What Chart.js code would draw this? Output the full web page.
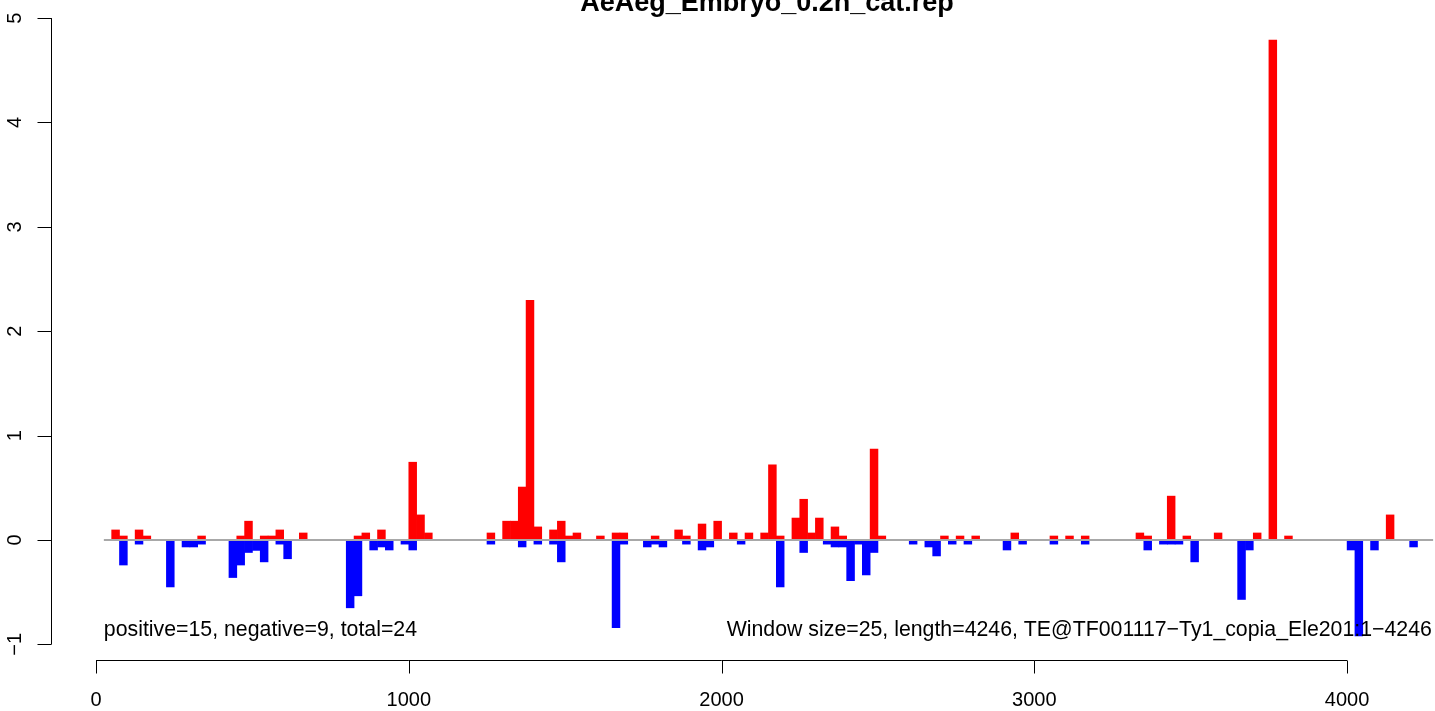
<!DOCTYPE html>
<html>
<head>
<meta charset="utf-8">
<script src="https://cdn.jsdelivr.net/npm/chart.js@4"></script>
<style>
  html, body { margin: 0; padding: 0; background: #fff; }
  #RepChart { display: block; }
</style>
</head>
<body>
<canvas id="RepChart" width="1435" height="711"></canvas>
<script>
// window size 25, positions are window starts
const WIN = 25;

const posStarts = [50, 75, 125, 150, 325, 450, 475, 525, 550, 575, 650, 825, 850, 900, 1000, 1025, 1050,
    1250, 1300, 1325, 1350, 1375, 1400, 1450, 1475, 1500, 1525, 1600, 1650, 1675, 1775, 1850, 1875,
    1925, 1975, 2025, 2075, 2125, 2150, 2175, 2225, 2250, 2275, 2300, 2350, 2375, 2475, 2500,
    2700, 2750, 2800, 2925, 3050, 3100, 3150, 3325, 3350, 3425, 3475, 3575, 3700, 3750, 3800, 4125];
const posValues = [0.096, 0.038, 0.096, 0.038, 0.038, 0.038, 0.18, 0.038, 0.038, 0.096, 0.067, 0.038, 0.067, 0.096, 0.745, 0.24, 0.067,
    0.067, 0.18, 0.18, 0.507, 2.295, 0.125, 0.096, 0.18, 0.038, 0.067, 0.038, 0.067, 0.067, 0.038, 0.096, 0.038,
    0.153, 0.18, 0.067, 0.067, 0.067, 0.72, 0.038, 0.21, 0.39, 0.067, 0.21, 0.125, 0.038, 0.87, 0.038,
    0.038, 0.038, 0.038, 0.067, 0.038, 0.038, 0.038, 0.067, 0.038, 0.42, 0.038, 0.067, 0.067, 4.79, 0.038, 0.24];

const negStarts = [75, 125, 225, 275, 300, 325, 425, 450, 475, 500, 525, 575, 600, 800, 825, 875, 900, 925, 975, 1000,
    1250, 1350, 1400, 1450, 1475, 1650, 1675, 1750, 1775, 1800, 1875, 1925, 1950, 2050, 2175, 2250,
    2325, 2350, 2375, 2400, 2425, 2450, 2475, 2600, 2650, 2675, 2725, 2775, 2900, 2950, 3050, 3150,
    3350, 3400, 3425, 3450, 3500, 3650, 3675, 4000, 4025, 4075, 4200];
const negValues = [-0.24, -0.04, -0.45, -0.067, -0.067, -0.04, -0.36, -0.24, -0.12, -0.10, -0.21, -0.04, -0.18, -0.65, -0.535, -0.096, -0.067, -0.096, -0.04, -0.096,
    -0.04, -0.067, -0.04, -0.04, -0.21, -0.84, -0.04, -0.067, -0.04, -0.067, -0.04, -0.096, -0.067, -0.04, -0.45, -0.12,
    -0.04, -0.067, -0.067, -0.39, -0.04, -0.335, -0.12, -0.04, -0.067, -0.153, -0.04, -0.04, -0.096, -0.04, -0.04, -0.04,
    -0.096, -0.04, -0.04, -0.04, -0.21, -0.57, -0.096, -0.096, -0.92, -0.096, -0.067];

const xTicks = [0, 1000, 2000, 3000, 4000];
const yTicks = [-1, 0, 1, 2, 3, 4, 5];
const baseLine = [25, 4275];

const chartTitle = "AeAeg_Embryo_0.2h_cat.rep";
const leftNote = "positive=15, negative=9, total=24";
const rightNote = "Window size=25, length=4246, TE@TF001117\u2212Ty1_copia_Ele201:1\u22124246";

const FONT = "'Liberation Sans', Arial, Helvetica, sans-serif";

// R style axes + title + notes
const rAxes = {
    id: "rAxes",
    afterDraw(chart) {
        const ctx = chart.ctx;
        const xs = chart.scales.x, ys = chart.scales.y;
        const area = chart.chartArea;
        ctx.save();
        ctx.strokeStyle = "#000";
        ctx.fillStyle = "#000";
        ctx.lineWidth = 1;

        // y axis
        const yx = Math.round(area.left) + 0.5;
        ctx.beginPath();
        ctx.moveTo(yx, ys.getPixelForValue(yTicks[0]));
        ctx.lineTo(yx, ys.getPixelForValue(yTicks[yTicks.length - 1]));
        yTicks.forEach(t => {
            const py = Math.round(ys.getPixelForValue(t)) + 0.5;
            ctx.moveTo(yx, py);
            ctx.lineTo(yx - 14, py);
        });
        ctx.stroke();
        ctx.font = "20px " + FONT;
        ctx.textAlign = "center";
        ctx.textBaseline = "alphabetic";
        yTicks.forEach(t => {
            ctx.save();
            ctx.translate(21, ys.getPixelForValue(t));
            ctx.rotate(-Math.PI / 2);
            ctx.fillText(t < 0 ? "\u2212" + Math.abs(t) : String(t), 0, 0);
            ctx.restore();
        });

        // x axis
        const xy = Math.round(area.bottom) + 0.5;
        ctx.beginPath();
        ctx.moveTo(xs.getPixelForValue(xTicks[0]), xy);
        ctx.lineTo(xs.getPixelForValue(xTicks[xTicks.length - 1]), xy);
        xTicks.forEach(t => {
            const px = Math.round(xs.getPixelForValue(t)) + 0.5;
            ctx.moveTo(px, xy);
            ctx.lineTo(px, xy + 13);
        });
        ctx.stroke();
        xTicks.forEach(t => {
            ctx.fillText(String(t), xs.getPixelForValue(t), 706);
        });

        // notes
        ctx.font = "21.3px " + FONT;
        ctx.textAlign = "left";
        ctx.fillText(leftNote, xs.getPixelForValue(25), ys.getPixelForValue(-0.92));
        ctx.textAlign = "right";
        ctx.fillText(rightNote, xs.getPixelForValue(4271), ys.getPixelForValue(-0.92));

        // title
        ctx.font = "bold 27px " + FONT;
        ctx.textAlign = "center";
        ctx.fillText(chartTitle, 767, 11);
        ctx.restore();
    }
};

const ctx = document.getElementById("RepChart").getContext("2d");
new Chart(ctx, {
    type: "bar",
    data: {
        datasets: [
            {
                type: "line",
                data: baseLine.map(x => ({ x: x, y: 0 })),
                borderColor: "#a8a8a8",
                borderWidth: 2,
                pointRadius: 0,
                order: 0
            },
            {
                data: posStarts.map((s, i) => ({ x: s + WIN / 2, y: posValues[i] })),
                backgroundColor: "#ff0000",
                borderWidth: 0,
                grouped: false,
                barPercentage: 1,
                categoryPercentage: 1,
                order: 1
            },
            {
                data: negStarts.map((s, i) => ({ x: s + WIN / 2, y: negValues[i] })),
                backgroundColor: "#0000ff",
                borderWidth: 0,
                grouped: false,
                barPercentage: 1,
                categoryPercentage: 1,
                order: 1
            }
        ]
    },
    options: {
        responsive: false,
        animation: false,
        layout: { padding: { left: 51, right: 0, top: 16, bottom: 51 } },
        plugins: { legend: { display: false }, tooltip: { enabled: false }, title: { display: false } },
        scales: {
            x: { type: "linear", min: -144, max: 4281, offset: false, display: false },
            y: { type: "linear", min: -1.15, max: 5.02, display: false }
        }
    },
    plugins: [rAxes]
});
</script>
</body>
</html>
